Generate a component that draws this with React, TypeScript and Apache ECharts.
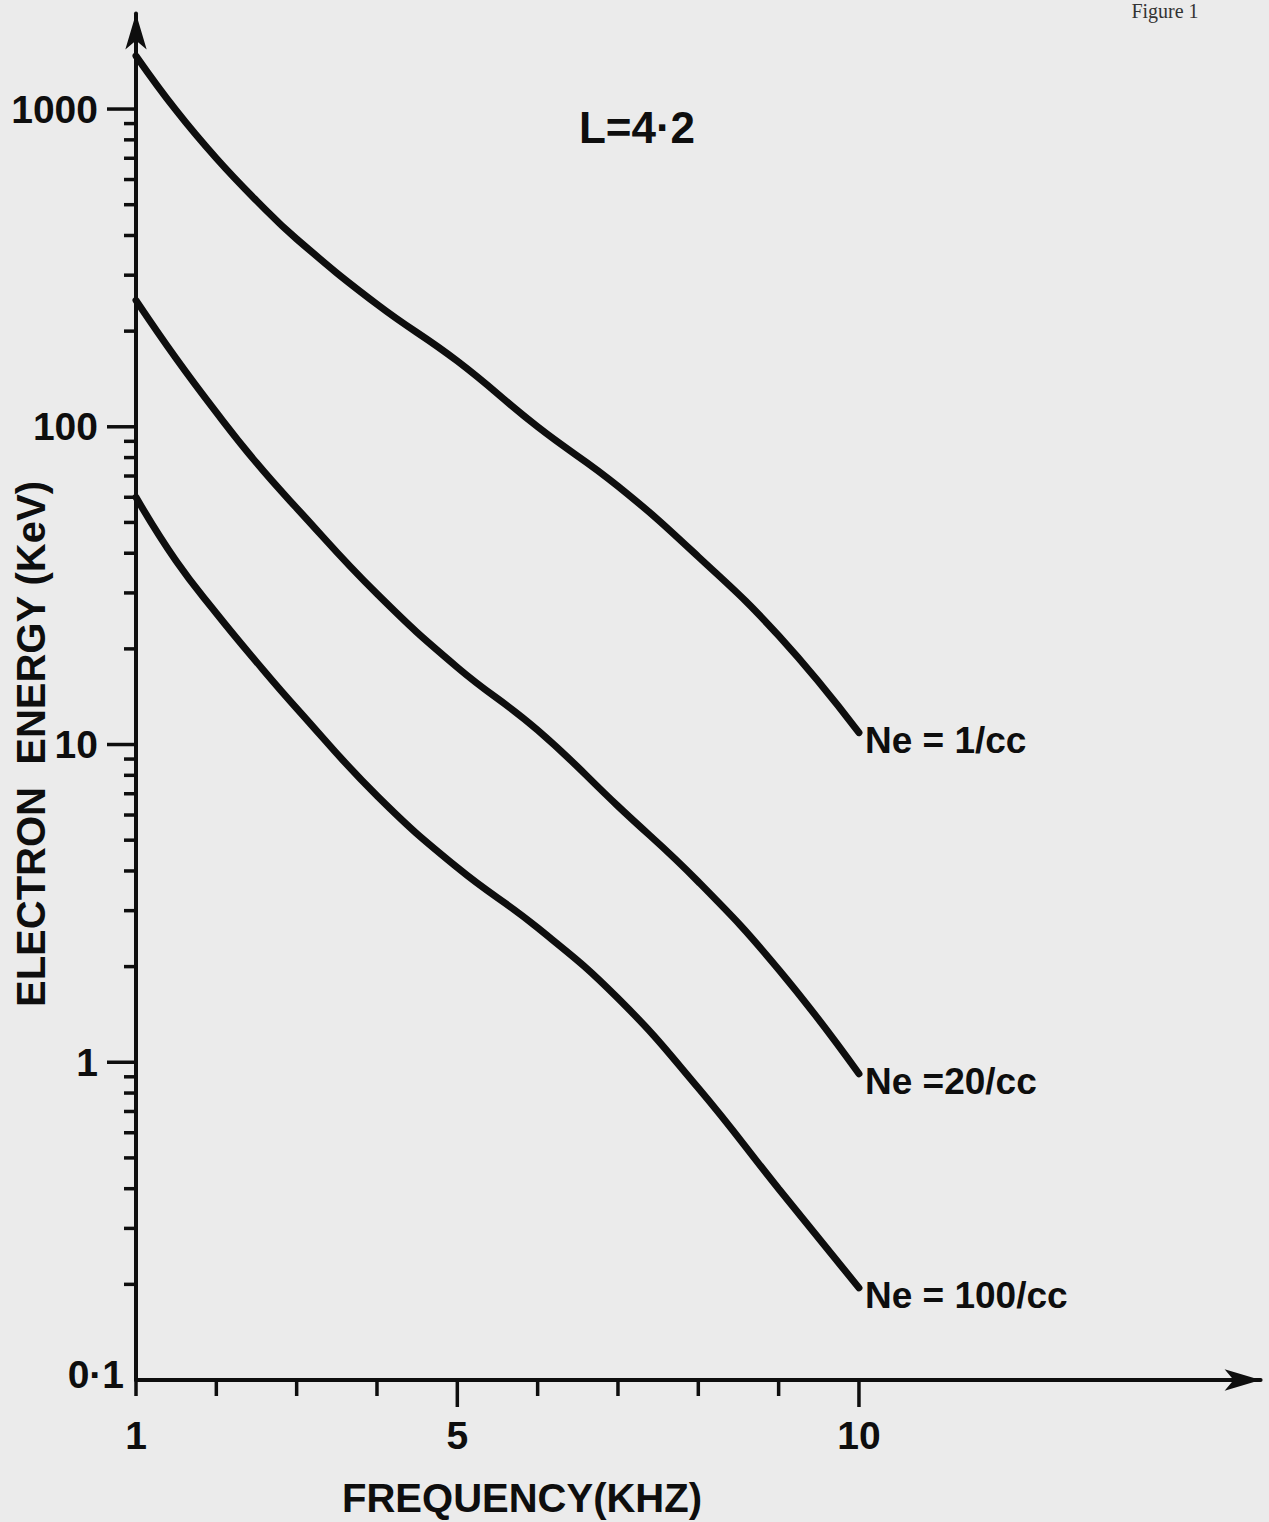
import React, { useEffect, useRef } from 'react';
import * as echarts from 'echarts';

// ---------- data ----------
const frequency = [1, 1.5, 2, 2.5, 3, 4, 5, 6, 7, 8, 9, 10];
const energyNe1 = [1470, 990, 700, 515, 390, 243, 161, 100, 65, 39, 22, 10.9];
const energyNe20 = [250, 164, 111, 77, 55.5, 29.8, 17.5, 11.1, 6.4, 3.7, 1.96, 0.92];
const energyNe100 = [60, 37.8, 25.9, 18.2, 13.0, 6.9, 4.1, 2.65, 1.59, 0.83, 0.4, 0.195];
const seriesNames = ['Ne = 1/cc', 'Ne =20/cc', 'Ne = 100/cc'];

const xTickValues = [1, 2, 3, 4, 5, 6, 7, 8, 9, 10];
const xLabelValues = [1, 5, 10];
const xLongTickValues = [5, 10];
const yMajorTickValues = [1, 10, 100, 1000];
const yMinorTickValues = [
  0.2, 0.3, 0.4, 0.5, 0.6, 0.7, 0.8, 0.9,
  2, 3, 4, 5, 6, 7, 8, 9,
  20, 30, 40, 50, 60, 70, 80, 90,
  200, 300, 400, 500, 600, 700, 800, 900,
];
const yLabelValues = [1, 10, 100, 1000];
const yBottomLabel = '0·1';
const X_MIN = 1;
const X_MAX = 15;
const Y_MIN = 0.1;
const Y_MAX = 2000;

const titleText = 'L=4·2';
const xTitle = 'FREQUENCY(KHZ)';
const yTitle = 'ELECTRON  ENERGY (KeV)';
const pageNote = 'Figure 1';

const INK = '#0e0e0e';
const FONT = '"Liberation Sans", Arial, sans-serif';

export default function App() {
  const ref = useRef<HTMLDivElement>(null);

  useEffect(() => {
    if (!ref.current) return;
    const chart = echarts.init(ref.current, undefined, { renderer: 'svg' });

    const curves = [energyNe1, energyNe20, energyNe100];
    const lineSeries = curves.map((vals, i) => ({
      name: seriesNames[i],
      type: 'line',
      data: frequency.map((f, j) => [f, vals[j]]),
      smooth: 0.45,
      showSymbol: false,
      z: 5,
      lineStyle: { color: INK, width: 7, cap: 'round' },
      itemStyle: { color: INK },
      endLabel: {
        show: true,
        formatter: () => seriesNames[i],
        color: INK,
        fontSize: 37,
        fontWeight: 'bold',
        fontFamily: FONT,
        distance: 6,
        offset: [0, 8],
      },
    }));

    const xTickSeries = {
      type: 'custom',
      clip: false,
      silent: true,
      z: 3,
      data: xTickValues.map((v) => [v, Y_MIN, xLongTickValues.includes(v) ? 1 : 0]),
      renderItem: (params: any, api: any) => {
        const p = api.coord([api.value(0), api.value(1)]);
        const len = api.value(2) === 1 ? 27 : 16;
        return {
          type: 'line',
          shape: { x1: p[0], y1: p[1], x2: p[0], y2: p[1] + len },
          style: { stroke: INK, lineWidth: 3.5 },
        };
      },
    };

    const yTickSeries = {
      type: 'custom',
      clip: false,
      silent: true,
      z: 3,
      data: [
        ...yMajorTickValues.map((v) => [X_MIN, v, 1]),
        ...yMinorTickValues.map((v) => [X_MIN, v, 0]),
      ],
      renderItem: (params: any, api: any) => {
        const p = api.coord([api.value(0), api.value(1)]);
        const len = api.value(2) === 1 ? 29 : 12;
        return {
          type: 'line',
          shape: { x1: p[0] - len, y1: p[1], x2: p[0], y2: p[1] },
          style: { stroke: INK, lineWidth: 3.5 },
        };
      },
    };

    const yBottomLabelSeries = {
      type: 'custom',
      clip: false,
      silent: true,
      z: 3,
      data: [[X_MIN, Y_MIN]],
      renderItem: (params: any, api: any) => {
        const p = api.coord([api.value(0), api.value(1)]);
        return {
          type: 'text',
          x: p[0] - 12,
          y: p[1] - 6,
          style: {
            text: yBottomLabel,
            fill: INK,
            fontSize: 39,
            fontWeight: 'bold',
            fontFamily: FONT,
            align: 'right',
            verticalAlign: 'middle',
          },
        };
      },
    };

    chart.setOption({
      animation: false,
      backgroundColor: '#ebebeb',
      grid: { left: 136, top: 13.4, right: 8.4, bottom: 142, containLabel: false },
      xAxis: {
        type: 'value',
        min: X_MIN,
        max: X_MAX,
        interval: 1,
        splitLine: { show: false },
        axisTick: { show: false },
        axisLine: {
          show: true,
          lineStyle: { color: INK, width: 4 },
          symbol: ['none', 'arrow'],
          symbolSize: [16, 36],
        },
        axisLabel: {
          color: INK,
          fontSize: 39,
          fontWeight: 'bold',
          fontFamily: FONT,
          margin: 36,
          showMaxLabel: false,
          formatter: (v: number) => (xLabelValues.includes(Math.round(v * 1000) / 1000) ? String(v) : ''),
        },
      },
      yAxis: {
        type: 'log',
        logBase: 10,
        min: Y_MIN,
        max: Y_MAX,
        splitLine: { show: false },
        axisTick: { show: false },
        minorTick: { show: false },
        axisLine: {
          show: true,
          lineStyle: { color: INK, width: 4 },
          symbol: ['none', 'arrow'],
          symbolSize: [16, 36],
        },
        axisLabel: {
          color: INK,
          fontSize: 39,
          fontWeight: 'bold',
          fontFamily: FONT,
          margin: 38,
          showMaxLabel: false,
          formatter: (v: number) => {
            const l = Math.log10(v);
            const r = Math.round(l);
            if (Math.abs(l - r) > 1e-6) return '';
            const val = Math.pow(10, r);
            return yLabelValues.includes(val) ? String(val) : '';
          },
        },
      },
      graphic: [
        {
          type: 'text',
          x: 637,
          y: 127,
          style: {
            text: titleText,
            fill: INK,
            fontSize: 44,
            fontWeight: 'bold',
            fontFamily: FONT,
            align: 'center',
            verticalAlign: 'middle',
          },
        },
        {
          type: 'text',
          x: 522,
          y: 1498,
          style: {
            text: xTitle,
            fill: INK,
            fontSize: 40,
            fontWeight: 'bold',
            fontFamily: FONT,
            align: 'center',
            verticalAlign: 'middle',
          },
        },
        {
          type: 'text',
          x: 31,
          y: 744,
          rotation: Math.PI / 2,
          style: {
            text: yTitle,
            fill: INK,
            fontSize: 40,
            fontWeight: 'bold',
            fontFamily: FONT,
            align: 'center',
            verticalAlign: 'middle',
          },
        },
        {
          type: 'text',
          x: 1165,
          y: 1,
          style: {
            text: pageNote,
            fill: '#333',
            fontSize: 20,
            fontFamily: '"Liberation Serif", serif',
            align: 'center',
            verticalAlign: 'top',
          },
        },
      ],
      series: [xTickSeries, yTickSeries, yBottomLabelSeries, ...lineSeries],
    });

    return () => chart.dispose();
  }, []);

  return (
    <div
      ref={ref}
      style={{ position: 'absolute', left: 0, top: 0, width: 1269, height: 1522 }}
    />
  );
}
